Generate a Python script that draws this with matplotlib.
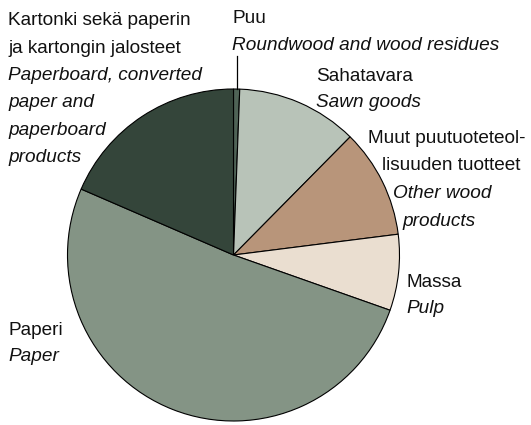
import matplotlib
matplotlib.use("Agg")
import matplotlib.pyplot as plt
import numpy as np

# Data (percent shares), clockwise from top
categories = ["Puu", "Sahatavara", "Muut puutuoteteollisuuden tuotteet", "Massa", "Paperi",
              "Kartonki sekä paperin ja kartongin jalosteet"]
values = [0.6, 11.8, 10.6, 7.4, 51.1, 18.5]
colors = ["#4f6356", "#b8c3b8", "#b8957a", "#eaded0", "#849485", "#34453a"]

# Label lines: (text, italic)
label_lines = [
    [("Puu", False), ("Roundwood and wood residues", True)],
    [("Sahatavara", False), ("Sawn goods", True)],
    [("Muut puutuoteteol-", False), ("lisuuden tuotteet", False), ("Other wood", True), ("products", True)],
    [("Massa", False), ("Pulp", True)],
    [("Paperi", False), ("Paper", True)],
    [("Kartonki sekä paperin", False), ("ja kartongin jalosteet", False), ("Paperboard, converted", True),
     ("paper and", True), ("paperboard", True), ("products", True)],
]

W, H = 531, 425
fig = plt.figure(figsize=(W / 100, H / 100), dpi=100)
ax = fig.add_axes([0, 0, 1, 1])

cx, cy, r = 233.5, H - 255, 166
wedges, _ = ax.pie(values, colors=colors, startangle=90, counterclock=False,
                   center=(cx, cy), radius=r, frame=True,
                   wedgeprops=dict(edgecolor="black", linewidth=0.8))
ax.set_xlim(0, W)
ax.set_ylim(0, H)
ax.set_aspect("equal")
ax.axis("off")

# Label anchor positions (left x, baseline y in image px) per line
line_pos = [
    [(232, 23), (232, 50)],
    [(316, 81), (316, 107)],
    [(368, 143), (382, 170), (393, 198), (402, 226)],
    [(406, 287), (406, 313)],
    [(8, 335), (8, 361)],
    [(8, 25), (8, 52.5), (8, 80), (8, 107), (8, 134.5), (8, 162)],
]

fs = 13.7
for lines, poss in zip(label_lines, line_pos):
    for (txt, it), (x, y) in zip(lines, poss):
        ax.text(x, H - y, txt, fontsize=fs, family="Liberation Sans",
                style="italic" if it else "normal", ha="left", va="baseline", color="#111111")

# Leader line for Puu
w0 = wedges[0]
mid = np.deg2rad((w0.theta1 + w0.theta2) / 2)
px = cx + r * np.cos(mid)
ax.plot([px, px], [cy + r * np.sin(mid), H - 56], color="black", linewidth=0.9)

fig.savefig("out.png", dpi=100)
